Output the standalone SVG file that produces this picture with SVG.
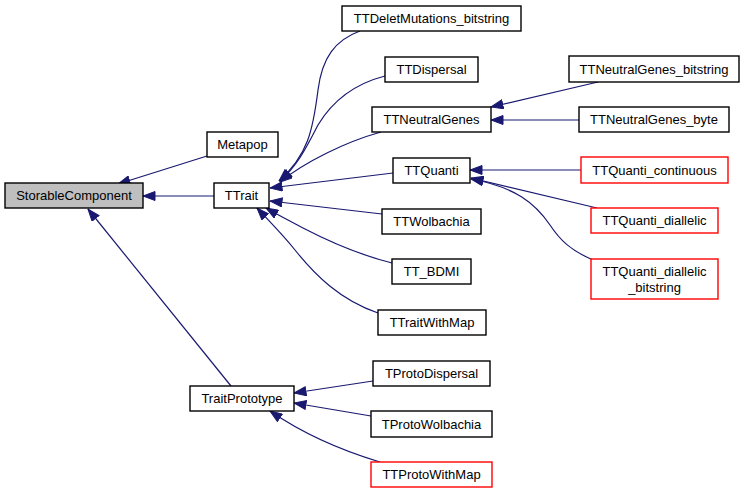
<svg xmlns="http://www.w3.org/2000/svg" width="745" height="493" viewBox="0 0 745 493">
<style>
.n rect{fill:#fff;stroke:#000;stroke-width:1.4}
.n.r rect{stroke:#ff0000}
.n.g rect{fill:#bfbfbf}
.n text{font-family:"Liberation Sans",Arial,sans-serif;font-size:13px;text-anchor:middle;fill:#000}
#edges path{fill:none;stroke:#191970;stroke-width:1.2;marker-end:url(#ah)}
</style>
<defs>
<marker id="ah" markerUnits="userSpaceOnUse" viewBox="0 0 13 10" refX="12.5" refY="5" markerWidth="13" markerHeight="10" orient="auto">
<path d="M0.5,0.5 L12.5,5 L0.5,9.5 z" fill="#191970" stroke="#191970" stroke-width="1"/>
</marker>
</defs>
<rect width="745" height="493" fill="#fff"/>
<g id="edges">
<path d="M207,156 L118,184"/>
<path d="M214,196 L143,196"/>
<path d="M231,386 L88,209"/>
<path d="M360,31 C335,40 322,58 318,90 C313,130 308,155 279,181"/>
<path d="M385,76 C350,85 330,105 318,125 C306,148 298,165 280,181"/>
<path d="M381,132 C345,142 305,162 280,182"/>
<path d="M393,173 L270,188"/>
<path d="M382,214 L270,201"/>
<path d="M392,263 C360,255 330,242 303,228 C290,221 278,215 266,208"/>
<path d="M378,313 C340,300 315,275 295,250 C283,235 270,222 257,208"/>
<path d="M598,82 L491,107"/>
<path d="M579,120 L491,120"/>
<path d="M581,170 L470,170"/>
<path d="M597,208 L471,178"/>
<path d="M593,260 C570,250 560,240 550,225 C535,203 515,187 471,179"/>
<path d="M373,381 L294,393"/>
<path d="M371,416 L294,403"/>
<path d="M380,462 C340,450 305,435 270,411"/>
</g>
<g id="StorableComponent" class="n g"><rect x="5" y="183" width="138" height="25"/><text x="74" y="200">StorableComponent</text></g>
<g id="Metapop" class="n"><rect x="207" y="132" width="71" height="25"/><text x="242.5" y="149">Metapop</text></g>
<g id="TTrait" class="n"><rect x="214" y="183" width="55" height="25"/><text x="241.5" y="200">TTrait</text></g>
<g id="TraitPrototype" class="n"><rect x="190" y="386" width="104" height="25"/><text x="242" y="403">TraitPrototype</text></g>
<g id="TTDeletMutations_bitstring" class="n"><rect x="342" y="6" width="179" height="25"/><text x="431.5" y="23">TTDeletMutations_bitstring</text></g>
<g id="TTDispersal" class="n"><rect x="385" y="57" width="93" height="25"/><text x="431.5" y="74">TTDispersal</text></g>
<g id="TTNeutralGenes" class="n"><rect x="372" y="107" width="119" height="25"/><text x="431.5" y="124">TTNeutralGenes</text></g>
<g id="TTQuanti" class="n"><rect x="393" y="158" width="77" height="25"/><text x="431.5" y="175">TTQuanti</text></g>
<g id="TTWolbachia" class="n"><rect x="382" y="209" width="99" height="25"/><text x="431.5" y="226">TTWolbachia</text></g>
<g id="TT_BDMI" class="n"><rect x="392" y="259" width="79" height="25"/><text x="431.5" y="276">TT_BDMI</text></g>
<g id="TTraitWithMap" class="n"><rect x="378" y="310" width="108" height="25"/><text x="432" y="327">TTraitWithMap</text></g>
<g id="TTNeutralGenes_bitstring" class="n"><rect x="569" y="56" width="170" height="26"/><text x="654" y="73.5">TTNeutralGenes_bitstring</text></g>
<g id="TTNeutralGenes_byte" class="n"><rect x="579" y="107" width="150" height="25"/><text x="654" y="124">TTNeutralGenes_byte</text></g>
<g id="TTQuanti_continuous" class="n r"><rect x="581" y="157" width="147" height="26"/><text x="654.5" y="174.5">TTQuanti_continuous</text></g>
<g id="TTQuanti_diallelic" class="n r"><rect x="591" y="208" width="127" height="25"/><text x="654.5" y="225">TTQuanti_diallelic</text></g>
<g id="TTQuanti_diallelic_bitstring" class="n r"><rect x="591" y="259" width="127" height="40"/><text x="654.5" y="276">TTQuanti_diallelic</text><text x="654.5" y="292">_bitstring</text></g>
<g id="TProtoDispersal" class="n"><rect x="373" y="361" width="117" height="25"/><text x="431.5" y="378">TProtoDispersal</text></g>
<g id="TProtoWolbachia" class="n"><rect x="371" y="411" width="121" height="26"/><text x="431.5" y="428.5">TProtoWolbachia</text></g>
<g id="TTProtoWithMap" class="n r"><rect x="371" y="462" width="121" height="25"/><text x="431.5" y="479">TTProtoWithMap</text></g>
</svg>
